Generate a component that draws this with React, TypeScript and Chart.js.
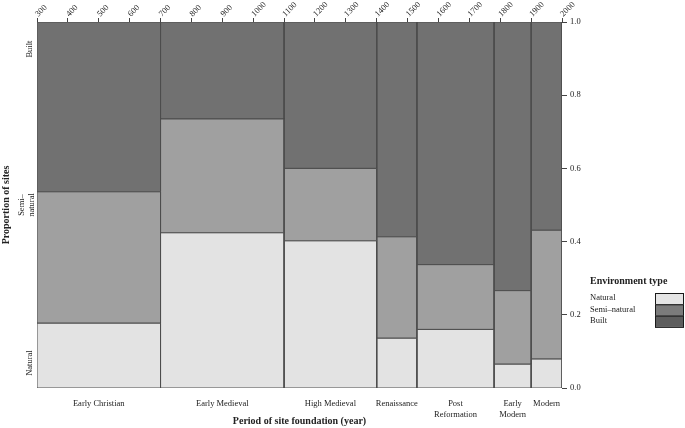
import React, { useEffect, useRef } from 'react';
import { Chart, registerables } from 'chart.js';

Chart.register(...registerables);

// ---- data ----
const periodLabels: string[][] = [
  ['Early Christian'],
  ['Early Medieval'],
  ['High Medieval'],
  ['Renaissance'],
  ['Post', 'Reformation'],
  ['Early', 'Modern'],
  ['Modern'],
];
const periodStart = [300, 700, 1100, 1400, 1530, 1780, 1900];
const periodEnd = [700, 1100, 1400, 1530, 1780, 1900, 2000];

const naturalShare = [0.177, 0.424, 0.402, 0.136, 0.16, 0.065, 0.079];
const semiNaturalShare = [0.359, 0.311, 0.198, 0.277, 0.177, 0.201, 0.352];
const builtShare = [0.464, 0.265, 0.4, 0.587, 0.663, 0.734, 0.569];

const envTypes = ['Natural', 'Semi–natural', 'Built'];
const sideLabels: string[][] = [['Natural'], ['Semi–', 'natural'], ['Built']];
const sideLabelValues = [0.068, 0.5, 0.926];

const yearMin = 300;
const yearMax = 2000;
const yearStep = 100;

// ---- styles ----
const plotColors = ['#e3e3e3', '#a0a0a0', '#717171'];
const legendColors = ['#e5e5e5', '#7b7b7b', '#5d5d5d'];
const edgeColor = '#4d4d4d';
const textColor = '#222222';
const SERIF = '"Liberation Serif", "Times New Roman", serif';

function buildDatasets() {
  const shares = [naturalShare, semiNaturalShare, builtShare];
  const ds: any[] = [];
  for (let i = 0; i < periodStart.length; i++) {
    let bottom = 0;
    for (let t = 0; t < shares.length; t++) {
      const top = bottom + shares[t][i];
      const x0 = periodStart[i];
      const x1 = periodEnd[i];
      ds.push({
        label: envTypes[t] + ' ' + periodLabels[i].join(' '),
        data: [
          { x: x0, y: bottom },
          { x: x0, y: top },
          { x: x1, y: top },
          { x: x1, y: bottom },
          { x: x0, y: bottom },
        ],
        showLine: true,
        fill: 'shape',
        backgroundColor: plotColors[t],
        borderColor: edgeColor,
        borderWidth: 1,
        pointRadius: 0,
        pointHoverRadius: 0,
        tension: 0,
        xAxisID: 'x',
        yAxisID: 'yR',
      });
      bottom = top;
    }
  }
  return ds;
}

const extrasPlugin = {
  id: 'extras',
  afterDraw(chart: any) {
    const ctx = chart.ctx as CanvasRenderingContext2D;
    const yScale = chart.scales.yR;
    ctx.save();
    ctx.fillStyle = textColor;
    // left side category labels (rotated)
    ctx.font = `8.5px ${SERIF}`;
    ctx.textAlign = 'center';
    ctx.textBaseline = 'middle';
    sideLabels.forEach((lines, i) => {
      const y = yScale.getPixelForValue(sideLabelValues[i]);
      const lh = 10.5;
      const xCenter = 27;
      lines.forEach((ln, k) => {
        const x = xCenter + (k - (lines.length - 1) / 2) * lh + (lines.length === 1 ? 3 : 0);
        ctx.save();
        ctx.translate(x, y);
        ctx.rotate(-Math.PI / 2);
        ctx.fillText(ln, 0, 0);
        ctx.restore();
      });
    });

    // legend
    const lx = 590;
    ctx.textAlign = 'left';
    ctx.font = `bold 10px ${SERIF}`;
    ctx.fillText('Environment type', lx, 281);
    ctx.font = `8.5px ${SERIF}`;
    const boxX = 655;
    const boxW = 29;
    const boxTop = 293;
    const boxH = 11.3;
    envTypes.forEach((name, i) => {
      ctx.fillStyle = textColor;
      ctx.fillText(name, lx, 298 + i * 11.5);
      ctx.fillStyle = legendColors[i];
      ctx.fillRect(boxX, boxTop + i * boxH, boxW, boxH);
      ctx.strokeStyle = '#1a1a1a';
      ctx.lineWidth = 1;
      ctx.strokeRect(boxX + 0.5, boxTop + i * boxH + 0.5, boxW - 1, boxH);
    });
    ctx.restore();
  },
};

export default function App() {
  const canvasRef = useRef<HTMLCanvasElement | null>(null);

  useEffect(() => {
    document.body.style.margin = '0';
    const canvas = canvasRef.current;
    if (!canvas) return;
    const centers = periodStart.map((s, i) => (s + periodEnd[i]) / 2);
    const tickFont = { family: SERIF, size: 8.5 };
    const chart = new Chart(canvas, {
      type: 'scatter',
      data: { datasets: buildDatasets() },
      plugins: [extrasPlugin],
      options: {
        animation: false,
        responsive: false,
        devicePixelRatio: 1,
        layout: { padding: 0 },
        plugins: {
          legend: { display: false },
          tooltip: { enabled: false },
          title: { display: false },
        },
        scales: {
          x: {
            type: 'linear',
            position: 'top',
            min: yearMin,
            max: yearMax,
            ticks: {
              stepSize: yearStep,
              autoSkip: false,
              minRotation: 45,
              maxRotation: 45,
              font: tickFont,
              color: textColor,
              padding: -1,
              labelOffset: 7,
              callback: (v: any) => String(v),
            },
            grid: { drawOnChartArea: false, tickLength: 4, color: '#444' },
            border: { display: false },
            afterFit: (s: any) => {
              s.height = 22;
            },
          },
          xPeriod: {
            type: 'linear',
            position: 'bottom',
            min: yearMin,
            max: yearMax,
            afterBuildTicks: (s: any) => {
              s.ticks = centers.map((v) => ({ value: v }));
            },
            ticks: {
              autoSkip: false,
              minRotation: 0,
              maxRotation: 0,
              font: tickFont,
              color: textColor,
              padding: 3,
              callback: (_v: any, i: number) => periodLabels[i],
            },
            grid: { display: false },
            border: { display: false },
            title: {
              display: true,
              text: 'Period of site foundation (year)',
              font: { family: SERIF, size: 10, weight: 'bold' },
              color: textColor,
              padding: { top: 1, bottom: 1 },
            },
            afterFit: (s: any) => {
              s.height = 40;
            },
          },
          yL: {
            type: 'linear',
            position: 'left',
            min: 0,
            max: 1,
            ticks: { display: false },
            grid: { display: false },
            border: { display: false },
            title: {
              display: true,
              text: 'Proportion of sites',
              font: { family: SERIF, size: 10, weight: 'bold' },
              color: textColor,
              padding: { top: 0, bottom: 0 },
            },
            afterFit: (s: any) => {
              s.width = 37;
            },
          },
          yR: {
            type: 'linear',
            position: 'right',
            min: 0,
            max: 1,
            ticks: {
              stepSize: 0.2,
              font: tickFont,
              color: textColor,
              padding: 3,
              callback: (v: any) => Number(v).toFixed(1),
            },
            grid: { drawOnChartArea: false, tickLength: 5, color: '#444' },
            border: { display: false },
            afterFit: (s: any) => {
              s.width = 123;
            },
          },
        },
      } as any,
    });
    return () => chart.destroy();
  }, []);

  return (
    <div style={{ position: 'absolute', left: 0, top: 0, width: 685, height: 428, background: '#fff' }}>
      <canvas ref={canvasRef} width={685} height={428} style={{ width: 685, height: 428 }} />
    </div>
  );
}
